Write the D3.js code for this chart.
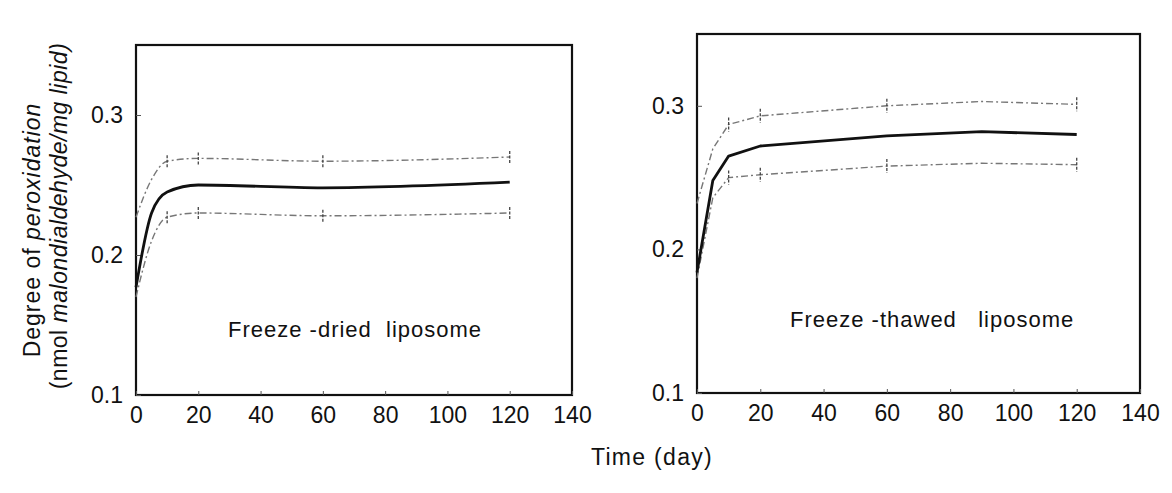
<!DOCTYPE html>
<html>
<head>
<meta charset="utf-8">
<script src="https://cdn.jsdelivr.net/npm/d3@7"></script>
<style>
  body { margin: 0; background: #fff; }
  text { font-family: "Liberation Sans", Arial, sans-serif; fill: #111; }
</style>
</head>
<body>
<script>
// tick labels
var xTicks = [0, 20, 40, 60, 80, 100, 120, 140];
var yTicks = [0.1, 0.2, 0.3];

// freeze-dried liposome (left panel)
var driedDays  = [0, 5, 10, 20, 60, 120];
var driedMean  = [0.177, 0.230, 0.245, 0.250, 0.248, 0.252];
var driedUpper = [0.227, 0.254, 0.267, 0.269, 0.267, 0.270];
var driedLower = [0.170, 0.210, 0.227, 0.230, 0.228, 0.230];

// freeze-thawed liposome (right panel)
var thawedDays  = [0, 5, 10, 20, 60, 90, 120];
var thawedMean  = [0.184, 0.248, 0.265, 0.272, 0.279, 0.282, 0.280];
var thawedUpper = [0.232, 0.270, 0.287, 0.293, 0.300, 0.303, 0.301];
var thawedLower = [0.180, 0.236, 0.250, 0.252, 0.258, 0.260, 0.259];

// days that carry error caps
var capDays = [10, 20, 60, 120];

window.onload = drawChart();

function drawChart(){

    var width = 1172,
        height = 493;

    var svg = d3.select("body")
        .append("svg")
        .attr("width", width)
        .attr("height", height);

    //two panels, each with its own frame
    drawPanel({x0: 136, x1: 572, y0: 45, y1: 395, capH: 12, curve: d3.curveMonotoneX,
        days: driedDays, mean: driedMean, upper: driedUpper, lower: driedLower,
        label: "Freeze -dried  liposome", labelX: 228, labelY: 337});
    drawPanel({x0: 697, x1: 1140, y0: 34, y1: 393, capH: 14, curve: d3.curveLinear,
        days: thawedDays, mean: thawedMean, upper: thawedUpper, lower: thawedLower,
        label: "Freeze -thawed   liposome", labelX: 790, labelY: 327});

    //y axis title, two rotated lines
    var yTitle = svg.append("text")
        .attr("transform", "translate(40,230) rotate(-90)")
        .attr("text-anchor", "middle")
        .style("font-size", "23px")
        .style("letter-spacing", "1px");
    yTitle.append("tspan").text("Degree of ");
    yTitle.append("tspan").style("font-style", "italic").text("peroxidation");

    var yTitle2 = svg.append("text")
        .attr("transform", "translate(67,216) rotate(-90)")
        .attr("text-anchor", "middle")
        .style("font-size", "23px")
        .style("letter-spacing", "0.5px");
    yTitle2.append("tspan").text("(nmol ");
    yTitle2.append("tspan").style("font-style", "italic").text("malondialdehyde/mg lipid)");

    //x axis title
    svg.append("text")
        .attr("x", 652)
        .attr("y", 465)
        .attr("text-anchor", "middle")
        .style("font-size", "23px")
        .style("letter-spacing", "1.3px")
        .text("Time (day)");

    function drawPanel(p){
        var x = d3.scaleLinear().domain([0, 140]).range([p.x0, p.x1]);
        var y = d3.scaleLinear().domain([0.1, 0.35]).range([p.y1, p.y0]);

        var g = svg.append("g");

        //frame
        g.append("rect")
            .attr("x", p.x0)
            .attr("y", p.y0)
            .attr("width", p.x1 - p.x0)
            .attr("height", p.y1 - p.y0)
            .attr("fill", "none")
            .attr("stroke", "#111")
            .attr("stroke-width", 2.2);

        //axes, inward ticks
        var xAxis = g.append("g")
            .attr("transform", "translate(0," + p.y1 + ")")
            .call(d3.axisBottom(x).tickValues(xTicks).tickSize(-4).tickPadding(12)
                .tickFormat(d3.format("d")));
        var yAxis = g.append("g")
            .attr("transform", "translate(" + p.x0 + ",0)")
            .call(d3.axisLeft(y).tickValues(yTicks).tickSize(-5).tickPadding(13)
                .tickFormat(d3.format(".1f")));

        [xAxis, yAxis].forEach(function(a){
            a.select(".domain").remove();
            a.selectAll(".tick line").attr("stroke", "#555").attr("stroke-width", 1);
            a.selectAll("text")
                .style("font-size", "23px")
                .style("font-family", "'Liberation Sans', Arial, sans-serif")
                .attr("fill", "#111");
        });

        var line = d3.line()
            .x(function(d){ return x(d[0]); })
            .y(function(d){ return y(d[1]); })
            .curve(p.curve);

        //mean +/- SD as dash-dot lines
        [p.upper, p.lower].forEach(function(vals){
            g.append("path")
                .datum(p.days.map(function(d, i){ return [d, vals[i]]; }))
                .attr("d", line)
                .attr("fill", "none")
                .attr("stroke", "#777")
                .attr("stroke-width", 1.4)
                .attr("stroke-dasharray", "7,3,2,3");

            g.selectAll(null)
                .data(capDays)
                .enter()
                .append("line")
                .attr("x1", function(d){ return x(d); })
                .attr("x2", function(d){ return x(d); })
                .attr("y1", function(d){ return y(vals[p.days.indexOf(d)]) - p.capH / 2; })
                .attr("y2", function(d){ return y(vals[p.days.indexOf(d)]) + p.capH / 2; })
                .attr("stroke", "#444")
                .attr("stroke-width", 1.3)
                .attr("stroke-dasharray", "3,1.5");
        });

        //mean line
        g.append("path")
            .datum(p.days.map(function(d, i){ return [d, p.mean[i]]; }))
            .attr("d", line)
            .attr("fill", "none")
            .attr("stroke", "#111")
            .attr("stroke-width", 2.8)
            .attr("stroke-linejoin", "round");

        //panel label
        g.append("text")
            .attr("x", p.labelX)
            .attr("y", p.labelY)
            .style("font-size", "22px")
            .style("letter-spacing", "1px")
            .style("white-space", "pre")
            .attr("xml:space", "preserve")
            .text(p.label);
    }
};
</script>
</body>
</html>
